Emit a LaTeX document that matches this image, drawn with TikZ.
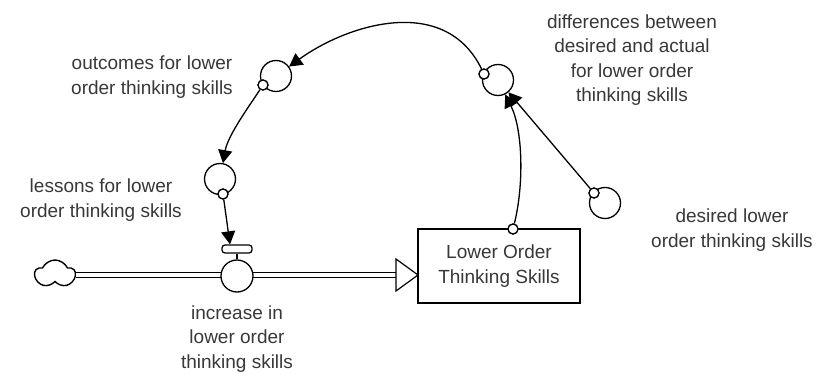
\documentclass[tikz,border=0pt]{standalone}
\usepackage{fontspec}
\setmainfont{Liberation Sans}
\usetikzlibrary{arrows.meta,shapes.symbols}
\begin{document}
\begin{tikzpicture}[x=1pt,y=-1pt,
  every node/.style={font=\fontsize{19}{24.5}\selectfont, text=black!78},
  aux/.style={circle, draw=black, line width=1.3pt, minimum size=31pt, inner sep=0pt, fill=white},
  dot/.style={circle, draw=black, line width=1.2pt, minimum size=10pt, inner sep=0pt, fill=white},
  link/.style={line width=1.3pt, -{Triangle[length=13pt,width=14pt]}},
  lbl/.style={align=center},
  stock/.style={draw=black, line width=1.3pt, minimum width=162pt, minimum height=74pt, align=center, fill=white},
  pipe/.style={draw=black, double=white, double distance=4pt, line width=1.2pt},
  valvebar/.style={draw=black, line width=1.3pt, rounded corners=3pt, minimum width=30pt, minimum height=8pt, inner sep=0pt, fill=white}
]
\useasboundingbox (0,0) rectangle (817,374);

% stock and flow
\node[stock] (box) at (499,266) {Lower Order\\Thinking Skills};
\node[cloud, draw=black, line width=1.4pt, cloud puffs=5, cloud puff arc=130, aspect=1.5,
      minimum width=40pt, minimum height=28pt, inner sep=0pt, fill=white] (src) at (55,274) {};
\coordinate (flowend) at (396,275);
\draw[pipe] (src.east |- flowend) -- (flowend);
\draw[line width=1.2pt, fill=white] (flowend) ++(0,-16) -- ++(22,16) -- ++(-22,16) -- cycle;

% valve
\node[circle, draw=black, line width=1.3pt, minimum size=32pt, inner sep=0pt, fill=white] (valve) at (237,276) {};
\node[valvebar] (bar) at (237,249) {};
\draw[line width=1.3pt] (valve.north) -- (bar.south);

% auxiliaries
\node[aux] (outc) at (276,76) {};
\node[dot] (outcd) at (263,85) {};
\node[aux] (diff) at (498,80) {};
\node[dot] (diffd) at (484,74) {};
\node[aux] (less) at (220,179) {};
\node[dot] (lessd) at (223,194) {};
\node[aux] (des) at (605,203) {};
\node[dot] (desd) at (594,193) {};
\node[dot] (boxd) at (513,229) {};

% links
\draw[link] (diffd) .. controls (445,-6) and (348,24) .. (outc);
\draw[link] (outcd) .. controls (250,105) and (228,135) .. (less);
\draw[link] (lessd) -- ([xshift=-7pt]bar.north);
\draw[link] (boxd) .. controls (524,185) and (523,130) .. (diff);
\draw[link] (desd) -- (diff);

% redraw the small circles over the link ends
\foreach \d in {outcd,diffd,lessd,desd,boxd}
  \node[dot] at (\d) {};

% labels
\node[lbl] (loutc) at (152,77) {outcomes for lower\\order thinking skills};
\node[lbl] (ldiff) at (632,60) {differences between\\desired and actual\\for lower order\\thinking skills};
\node[lbl] (lless) at (101,200) {lessons for lower\\order thinking skills};
\node[lbl] (ldes) at (732,230) {desired lower\\order thinking skills};
\node[lbl] (lval) at (237,339) {increase in\\lower order\\thinking skills};
\end{tikzpicture}
\end{document}
